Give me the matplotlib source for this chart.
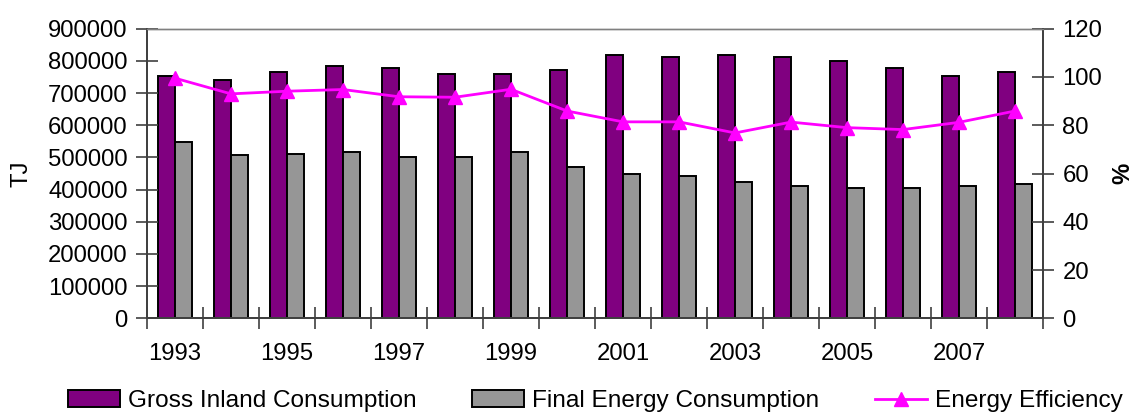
import numpy as np
import matplotlib
matplotlib.use('Agg')
import matplotlib.pyplot as plt

plt.rcParams['font.family'] = ['Liberation Sans', 'DejaVu Sans']

years = [str(y) for y in range(1993, 2009)]
gross_inland = [753000, 740000, 766000, 783000, 777000, 759000, 759000, 772000,
                818000, 812000, 818000, 812000, 800000, 777000, 753000, 765000]
final_energy = [547000, 506000, 511000, 518000, 500000, 500000, 517000, 471000,
                447000, 441000, 424000, 411000, 406000, 406000, 412000, 418000]
efficiency = [99.5, 93.0, 94.1, 94.8, 91.8, 91.6, 94.9, 85.9,
              81.4, 81.4, 76.8, 81.3, 79.0, 78.2, 81.2, 85.9]

fs = 17.2
tick_col = '#404040'

fig = plt.figure(figsize=(11.37, 4.12), dpi=100)
ax = fig.add_axes([147/1137, 1 - 318.3/412, (1043 - 147)/1137, (318.3 - 28.7)/412])
ax2 = ax.twinx()

x = np.arange(len(years))
w = 0.3
b1 = ax.bar(x - w/2, gross_inland, w, color='#800080', edgecolor='black', linewidth=1.4,
            label='Gross Inland Consumption')
b2 = ax.bar(x + w/2, final_energy, w, color='#969696', edgecolor='black', linewidth=1.4,
            label='Final Energy Consumption')
l1, = ax2.plot(x, efficiency, color='#FF00FF', linewidth=2, marker='^', markersize=10,
               label='Energy Efficiency')

ax.set_xlim(-0.5, len(years) - 0.5)
ax.set_ylim(0, 900000)
ax.set_yticks(np.arange(0, 900001, 100000))
ax2.set_ylim(0, 120)
ax2.set_yticks(np.arange(0, 121, 20))

# boundary ticks without labels, labels on every second year
ax.set_xticks(np.arange(-0.5, len(years), 1))
ax.set_xticklabels([])
ax.set_xticks(x[::2], minor=True)
ax.set_xticklabels(years[::2], minor=True)
ax.tick_params(axis='x', which='minor', length=0, pad=18, labelsize=fs)
ax.tick_params(axis='x', which='major', direction='inout', length=16, width=1.2, color=tick_col)
ax.tick_params(axis='y', direction='inout', length=16, width=1.2, color=tick_col, labelsize=fs, pad=6)
ax2.tick_params(axis='y', direction='inout', length=16, width=1.2, color=tick_col, labelsize=fs, pad=6)

for a in (ax, ax2):
    for s in a.spines.values():
        s.set_color(tick_col)
        s.set_linewidth(1.3)
    a.spines['top'].set_color('#808080')
    a.spines['top'].set_linewidth(1)

ax.set_ylabel('TJ', fontsize=fs)
ax.yaxis.set_label_coords(-0.128, 0.5)
ax2.set_ylabel('%', fontsize=fs, fontweight='bold')
ax2.yaxis.set_label_coords(1.076, 0.5)

fig.legend(handles=[b1, b2, l1], loc='center left', bbox_to_anchor=(56/1137, 1 - 401/412),
           ncol=3, frameon=False, fontsize=17.6, borderpad=0, handlelength=2.1,
           handletextpad=0.33, columnspacing=2.3)

fig.savefig('out.png', dpi=100)
